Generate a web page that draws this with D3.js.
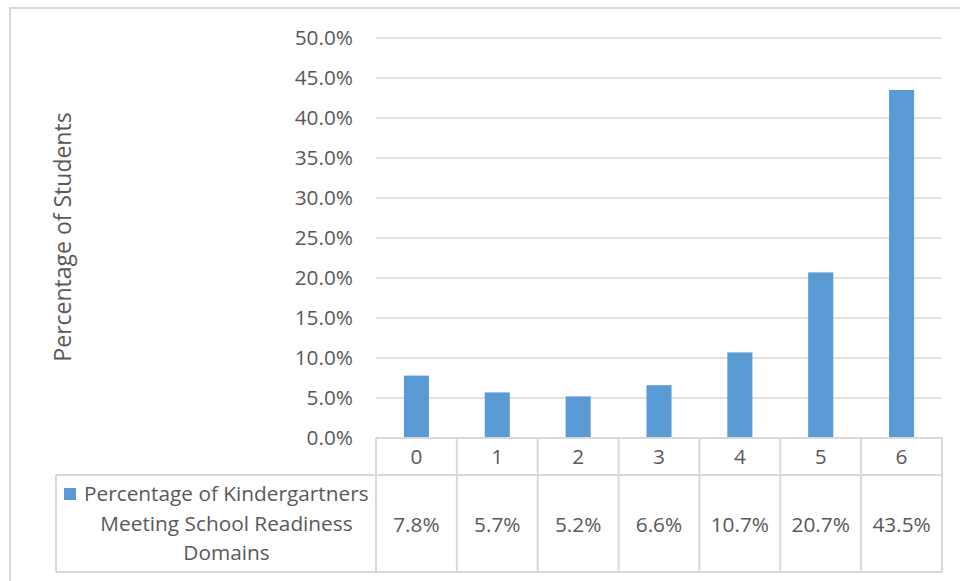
<!DOCTYPE html>
<html>
<head>
<meta charset="utf-8">
<script src="https://cdn.jsdelivr.net/npm/d3@7"></script>
<style>
  html, body { margin: 0; padding: 0; background: #fff; }
  svg { display: block; }
  text { font-family: "Open Sans", sans-serif; fill: #595959; }
</style>
</head>
<body>
<svg id="chart" width="960" height="581"></svg>
<script>
// Number of school readiness domains met
const categories = ["0", "1", "2", "3", "4", "5", "6"];
// Share of kindergartners (percent) for each count of domains met
const values = [7.8, 5.7, 5.2, 6.6, 10.7, 20.7, 43.5];
// Value-axis ticks (percent)
const yTicks = [0, 5, 10, 15, 20, 25, 30, 35, 40, 45, 50];
const seriesName = ["Percentage of Kindergartners", "Meeting School Readiness", "Domains"];
const yTitle = "Percentage of Students";

const svg = d3.select("#chart");
const gridColor = "#d9d9d9";
const barColor = "#5b9bd5";
const labelSize = "20.8px";

const plot = { left: 376, right: 942, top: 38, bottom: 438 };
const table = { headerBottom: 475, bottom: 572, legendLeft: 56 };

// outer chart frame
svg.append("rect")
  .attr("x", 10).attr("y", 8)
  .attr("width", 980).attr("height", 600)
  .attr("fill", "none").attr("stroke", gridColor).attr("stroke-width", 2);

const y = d3.scaleLinear().domain([0, 50]).range([plot.bottom, plot.top]);
const x = d3.scaleBand().domain(categories)
  .range([plot.left, plot.right])
  .paddingInner(0.69).paddingOuter(0.345);
const step = x.step();
const slotLeft = c => plot.left + categories.indexOf(c) * step;

// horizontal gridlines
svg.append("g").selectAll("line")
  .data(yTicks.filter(t => t > 0))
  .join("line")
  .attr("x1", plot.left).attr("x2", plot.right)
  .attr("y1", d => y(d)).attr("y2", d => y(d))
  .attr("stroke", gridColor).attr("stroke-width", 1.5);

// value axis labels
const yAxis = d3.axisLeft(y)
  .tickValues(yTicks)
  .tickFormat(d => d3.format(".1f")(d) + "%")
  .tickSize(0).tickPadding(23);
const ya = svg.append("g").attr("transform", `translate(${plot.left},0)`).call(yAxis);
ya.select(".domain").remove();
ya.selectAll("text")
  .style("font-family", '"Open Sans", sans-serif')
  .style("font-size", labelSize)
  .attr("fill", "#595959");

// bars
svg.append("g").selectAll("rect")
  .data(values)
  .join("rect")
  .attr("x", (d, i) => x(categories[i]))
  .attr("width", x.bandwidth())
  .attr("y", d => y(d))
  .attr("height", d => y(0) - y(d))
  .attr("fill", barColor);

// data table grid
const tg = svg.append("g").attr("stroke", gridColor).attr("stroke-width", 2).attr("fill", "none");
// top of header row (category axis line)
tg.append("line").attr("x1", plot.left).attr("x2", plot.right).attr("y1", plot.bottom).attr("y2", plot.bottom);
// header / values separator
tg.append("line").attr("x1", table.legendLeft).attr("x2", plot.right).attr("y1", table.headerBottom).attr("y2", table.headerBottom);
// bottom line
tg.append("line").attr("x1", table.legendLeft).attr("x2", plot.right).attr("y1", table.bottom).attr("y2", table.bottom);
// legend cell left edge
tg.append("line").attr("x1", table.legendLeft).attr("x2", table.legendLeft).attr("y1", table.headerBottom).attr("y2", table.bottom);
// column separators
const colEdges = categories.map(c => slotLeft(c)).concat([plot.right]);
tg.selectAll("line.col").data(colEdges).join("line").attr("class", "col")
  .attr("x1", d => d).attr("x2", d => d)
  .attr("y1", plot.bottom).attr("y2", table.bottom);

// category labels
svg.append("g").selectAll("text")
  .data(categories)
  .join("text")
  .attr("x", d => x(d) + x.bandwidth() / 2)
  .attr("y", (plot.bottom + table.headerBottom) / 2)
  .attr("dy", "0.35em")
  .attr("text-anchor", "middle")
  .style("font-size", labelSize)
  .text(d => d);

// value cells
svg.append("g").selectAll("text")
  .data(values)
  .join("text")
  .attr("x", (d, i) => x(categories[i]) + x.bandwidth() / 2)
  .attr("y", (table.headerBottom + table.bottom) / 2 + 1)
  .attr("dy", "0.35em")
  .attr("text-anchor", "middle")
  .style("font-size", labelSize)
  .text(d => d3.format(".1f")(d) + "%");

// legend key and series name
svg.append("rect")
  .attr("x", 64).attr("y", 488).attr("width", 12).attr("height", 12)
  .attr("fill", barColor);
const legendCenter = 226.5;
svg.append("g").selectAll("text")
  .data(seriesName)
  .join("text")
  .attr("x", (d, i) => i === 0 ? 84 : legendCenter)
  .attr("y", (d, i) => 494 + i * 29.5)
  .attr("dy", "0.35em")
  .attr("text-anchor", (d, i) => i === 0 ? "start" : "middle")
  .style("font-size", labelSize)
  .text(d => d);

// value axis title
svg.append("text")
  .attr("transform", `translate(63,${237}) rotate(-90)`)
  .attr("text-anchor", "middle")
  .attr("dy", "0.35em")
  .style("font-size", "23px")
  .text(yTitle);
</script>
</body>
</html>
